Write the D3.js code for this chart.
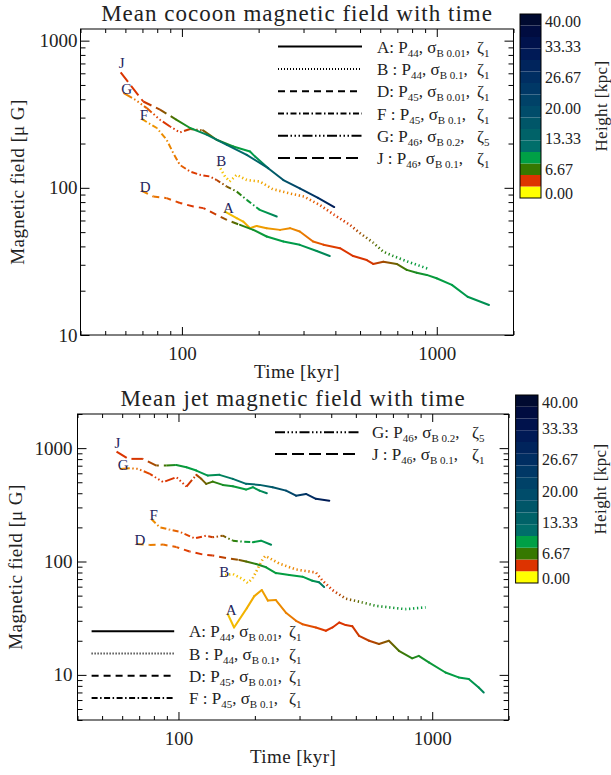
<!DOCTYPE html>
<html>
<head>
<meta charset="utf-8">
<script src="https://cdn.jsdelivr.net/npm/d3@7"></script>
<style>
  body { margin: 0; background: #fff; }
  svg text { font-family: "Liberation Serif", "Times New Roman", serif; fill: #222; }
  .title { font-size: 23px; letter-spacing: 1px; }
  .axlab { font-size: 19px; letter-spacing: 0.4px; }
  .axis text { font-size: 19px; fill: #222; }
  .cblab { font-size: 16px; }
  .leg { font-size: 17px; }
  .leg .sub { font-size: 11px; }
  .curve-lab { font-size: 15px; fill: #25255e; }
</style>
</head>
<body>
<svg id="chart" width="611" height="775"></svg>
<script>
// x axis: time in kyr, y axis: mean magnetic field in micro Gauss
var xDomain = [40, 2000];
var xMajorTicks = [100, 1000];
var yMajorTicks = [10, 100, 1000];

// colour bar: height in kpc, 16 bands of 2.5 kpc (bottom to top)
var heightMax = 40;
var heightTickLabels = ["0.00", "6.67", "13.33", "20.00", "26.67", "33.33", "40.00"];
var bandColors = ["#ffff00", "#dd3300", "#367800", "#00a046", "#006e6a", "#006268",
                  "#005668", "#004c6a", "#004268", "#003866", "#002e62", "#00245c",
                  "#001a56", "#00124c", "#000c40", "#000a30"];

// legend entries
var runKeys = ["A", "B", "D", "F", "G", "J"];
var runSep = [": ", " : ", ": ", " : ", ": ", " : "];
var runP = ["44", "44", "45", "45", "46", "46"];
var runSigma = ["B 0.01", "B 0.1", "B 0.01", "B 0.1", "B 0.2", "B 0.1"];
var runZeta = ["1", "1", "1", "1", "5", "1"];

// [time kyr, B microGauss, height kpc] -- mean cocoon field
var cocoonA = [[147.6,69,2.0],[164,62.2,2.1],[174,59,2.2],[185,53.2,2.3],[196.5,55.1,2.4],[215,53.2,2.5],
  [242.7,51.8,2.6],[265.6,53.2,2.7],[290,50.5,2.8],[327,43.2,3.1],[359,41.1,3.5],[417,38.9,3.7],
  [470,34.4,3.8],[531,32.3,3.8],[563,30.4,3.9],[617,31.5,4.6],[696,30.4,5.5],[762,27.7,6.5],
  [834,26.5,7.6],[913,25.6,8.2],[998,24.3,8.5],[1146,21.9,8.8],[1321,18.2,9.2],[1603,16,9.7]];
var cocoonB = [[139,143,1.9],[147.6,119.4,2.0],[154,110.4,2.0],[164,122.5,2.1],[179.6,113,2.2],
  [202,110.4,2.3],[227,98,2.5],[262,92,2.7],[301,87.3,3.0],[347,76.5,3.4],[396,65.5,3.7],
  [456,56,3.9],[500,49.2,4.7],[563,42.4,5.6],[617,36.8,6.3],[675,34.4,7.6],[762,31.7,8.2],
  [834,30,8.5],[925,28.2,8.6]];
var cocoonD = [[69.5,95.5,2.7],[77.2,87.3,2.9],[87.1,85.1,3.2],[98.2,78.9,3.6],[110.9,74.7,3.8],
  [121.4,72.8,3.8],[136.8,65.5,4.1],[150,60.5,5.0],[169,56,6.3],[190.6,51.8,7.8],[215,46.7,8.5],
  [250,43.2,8.8],[290,41,9.1],[338,37.2,9.6],[380,34.4,10.3]];
var cocoonF = [[69.5,294,2.5],[79.7,255,2.6],[87.1,212,2.7],[92.5,172,2.8],[98.2,143,3.1],
  [107.7,129,3.6],[117.8,122.5,3.8],[128.9,119.4,3.8],[136.8,113,4.2],[150,102,5.0],
  [164,94.4,6.3],[179.6,82.8,8.0],[202,70.8,8.8],[235.5,63.8,10.3]];
var cocoonG = [[58.9,441,2.7],[65.5,397,2.9],[72.8,348,3.2],[82,290,3.7],[89.8,261,3.8],
  [98.2,238,3.8],[107.7,251,4.2],[121,245.5,5.0],[136.8,212,6.3],[159,191,8.3],[185,176.6,8.7],
  [193.7,163,9.2],[218,136,10.5]];
var cocoonJ = [[57.5,609,3.8],[70.5,386,3.8],[82,340,4.6],[95.3,290,6.3],[107.7,255,8.3],
  [125,230,10.5],[150,196,11.5],[179.6,167.6,12.5],[218,136,14],[250,113,17],[290,99,21],
  [342,85.5,26],[396,74,31]];

// mean jet field
var jetA = [[156.4,34.4,2.0],[165.6,26.2,2.1],[186,38.8,2.2],[199,49.5,2.3],[213,56,2.4],
  [225,45.2,2.5],[242,45.7,2.6],[266,35.1,2.8],[290.6,30,3.0],[308,28,3.3],[348,26.2,3.5],
  [381,24.5,3.7],[404.5,26.2,3.8],[430,29,3.8],[456,27.5,3.8],[484,26.9,3.9],[515,22.1,4.0],
  [564,20,4.2],[617,18.7,4.7],[675,20,5.2],[739,16.3,6.0],[834,14,7.0],[885,14.7,7.5],
  [970,12.9,8.2],[1128,10.5,8.5],[1271,9.5,8.8],[1393,9.2,9.1],[1525,7.75,9.5],[1596,7.0,10.3]];
var jetB = [[147.3,75,1.9],[163.7,77.6,2.0],[179,70,2.0],[187.5,64.6,2.1],[196.4,71.5,2.2],
  [205,86,2.3],[214.8,105,2.4],[220,112,2.5],[249.6,96,2.6],[290.6,85,2.8],[348,80,3.3],
  [369,68,3.6],[404.5,56,3.8],[456,47,4.8],[530,43.6,6.0],[599,40.7,7.5],[675,39.4,8.0],
  [785,38,8.4],[942,39.4,8.6]];
var jetD = [[68.4,143,2.7],[77.1,140,2.8],[87,141,3.0],[98.1,134,3.3],[110.6,122.5,3.7],
  [124.8,115.3,3.8],[136.5,113,3.9],[154,107.4,4.3],[173.6,103,5.0],[184.8,100,5.8],
  [202.4,95,7.0],[221.5,88.9,8.2],[242,79,8.5],[273.5,76,8.6],[308,73.5,8.8],[337,67.6,9.2],
  [358,65.5,10.3],[375,59.6,11]];
var jetF = [[78.2,237,2.6],[84.3,200.5,2.8],[92.3,191,3.0],[101,183,3.3],[115.9,160,3.7],
  [128.6,169,3.8],[136.5,163.7,4.1],[149.5,169,5.0],[163.7,152.7,6.3],[179,149.6,8.0],
  [196.4,148,8.5],[211.5,152.7,9.0],[231.8,140.6,10.0]];
var jetG = [[58.7,656,2.6],[64.3,665,2.8],[69.3,656,3.1],[77.1,593,3.6],[87,501,3.8],
  [98.1,555,3.8],[107.5,458,3.8],[117.6,581,4.2],[123,536,5.0],[128.6,484,5.5],[136.5,507,6.3],
  [149.5,474,7.6],[163.7,461,8.3],[184.8,431,8.6],[196.4,452,9.0],[208.6,422,9.5],[223,400,10.5]];
var jetJ = [[57,933,3.8],[63.4,804,3.8],[72.4,804,3.9],[81.8,701,4.8],[89.6,701,6.3],
  [98.1,711,8.0],[107.5,679,8.5],[117.6,634,8.7],[130.5,573,9.3],[145,581,10],[163.7,536,11],
  [184.8,484,12],[208.6,474,13.5],[235,452,16],[265.5,422,19],[290.6,381,22],[318,394.5,25],
  [348,357,28],[393,344,32]];

// IDL-like line styles
var dashes = {
    A: null,
    B: "1.3,2.7",
    D: "7,5",
    F: "6,2.5,1.5,2.5",
    G: "10,2.5,1.5,2.5,1.5,2.5,1.5,2.5",
    J: "12,5"
};
// the original restarts the pattern at every output (~11 kyr apart), so once
// an output step is shorter on screen than the first dash the line looks solid
var outputStep = 11;

var panels = [
    {
        title: "Mean cocoon magnetic field with time",
        yDomain: [10, 1200],
        frame: { l: 80.5, r: 513.5, t: 29, b: 335 },
        bar: { l: 520, r: 541, t: 14, b: 198 },
        titleY: 21, xLabY: 378, yLabX: 24, barLabX: 607, yPad: 3,
        series: { A: cocoonA, B: cocoonB, D: cocoonD, F: cocoonF, G: cocoonG, J: cocoonJ },
        legends: [{ keys: ["A", "B", "D", "F", "G", "J"], x0: 278, x1: 362, tx: 377, y0: 46.6, dy: 22.3 }]
    },
    {
        title: "Mean jet magnetic field with time",
        yDomain: [4, 2000],
        frame: { l: 77.5, r: 508.6, t: 414, b: 720 },
        bar: { l: 515.6, r: 538, t: 395, b: 583 },
        titleY: 406, xLabY: 763, yLabX: 22, barLabX: 606, yPad: 5,
        series: { A: jetA, B: jetB, D: jetD, F: jetF, G: jetG, J: jetJ },
        legends: [
            { keys: ["G", "J"], x0: 275, x1: 358.5, tx: 372, y0: 432.3, dy: 21.8 },
            { keys: ["A", "B", "D", "F"], x0: 91.6, x1: 174.2, tx: 189, y0: 631.3, dy: 22.2 }
        ]
    }
];

var svg = d3.select("#chart");
svg.append("rect").attr("width", 611).attr("height", 775).attr("fill", "#fff");
var defs = svg.append("defs");
var gradCount = 0;

// line colour follows the colour bar, blended between band centres
var bandCentres = bandColors.map((c, i) => (i + 0.5) * heightMax / bandColors.length);
var lineColor = d3.scaleLinear().domain(bandCentres).range(bandColors).clamp(true);

function drawSeries(g, x, y, data, key) {
    var pts = data.map(d => [x(d[0]), y(d[1]), d[2], d[0]]);
    var dash = dashes[key];
    var firstDash = dash ? +dash.split(",")[0] : 0;
    var run = 0;
    for (var i = 0; i < pts.length - 1; i++) {
        var p = pts[i], q = pts[i + 1];
        var len = Math.hypot(q[0] - p[0], q[1] - p[1]);
        var tm = Math.sqrt(p[3] * q[3]);
        var step = x(tm + outputStep) - x(tm);
        var dashed = dash && (key === "B" || step >= firstDash);
        var id = "seg" + (gradCount++);
        var lg = defs.append("linearGradient").attr("id", id)
            .attr("gradientUnits", "userSpaceOnUse")
            .attr("x1", p[0]).attr("y1", p[1]).attr("x2", q[0]).attr("y2", q[1]);
        lg.append("stop").attr("offset", 0).attr("stop-color", lineColor(p[2]));
        lg.append("stop").attr("offset", 1).attr("stop-color", lineColor(q[2]));
        g.append("line")
            .attr("x1", p[0]).attr("y1", p[1]).attr("x2", q[0]).attr("y2", q[1])
            .attr("stroke", "url(#" + id + ")")
            .attr("stroke-width", key === "B" ? 2.6 : 2)
            .attr("stroke-linecap", dashed ? "butt" : "round")
            .attr("stroke-dasharray", dashed ? dash : null)
            .attr("stroke-dashoffset", dashed ? run : null);
        run += len;
    }
    // run letter next to the first point
    g.append("text").attr("class", "curve-lab")
        .attr("x", pts[0][0] - 2)
        .attr("y", pts[0][1] + (key === "J" ? -4 : 1))
        .text(key);
}

function drawLegend(g, L) {
    L.keys.forEach((k, i) => {
        var idx = runKeys.indexOf(k);
        var yy = L.y0 + i * L.dy;
        g.append("line").attr("x1", L.x0).attr("x2", L.x1).attr("y1", yy).attr("y2", yy)
            .attr("stroke", "#000").attr("stroke-width", 2)
            .attr("stroke-dasharray", k === "B" ? "1,2" : dashes[k]);
        var t = g.append("text").attr("class", "leg").attr("x", L.tx).attr("y", yy + 6);
        t.append("tspan").text(k + runSep[idx] + "P");
        t.append("tspan").attr("class", "sub").attr("dy", 4).text(runP[idx]);
        t.append("tspan").attr("dy", -4).text(", \u03c3");
        t.append("tspan").attr("class", "sub").attr("dy", 4).text(runSigma[idx]);
        t.append("tspan").attr("dy", -4).text(",");
        t.append("tspan").attr("x", L.tx + 100).text("\u03b6");
        t.append("tspan").attr("class", "sub").attr("dy", 4).text(runZeta[idx]);
    });
}

function drawAxes(g, x, y, f, yPad) {
    var xMinor = x.ticks().filter(v => xMajorTicks.indexOf(v) < 0);
    var yMinor = y.ticks().filter(v => yMajorTicks.indexOf(v) < 0);
    var fmt = d3.format("d");

    var axes = [
        [d3.axisBottom(x).tickValues(xMajorTicks).tickSize(-8).tickPadding(11.5).tickFormat(fmt), "translate(0," + f.b + ")"],
        [d3.axisBottom(x).tickValues(xMinor).tickSize(-4).tickFormat(""), "translate(0," + f.b + ")"],
        [d3.axisTop(x).tickValues(xMajorTicks).tickSize(-8).tickFormat(""), "translate(0," + f.t + ")"],
        [d3.axisTop(x).tickValues(xMinor).tickSize(-4).tickFormat(""), "translate(0," + f.t + ")"],
        [d3.axisLeft(y).tickValues(yMajorTicks).tickSize(-9).tickPadding(yPad).tickFormat(fmt), "translate(" + f.l + ",0)"],
        [d3.axisLeft(y).tickValues(yMinor).tickSize(-5).tickFormat(""), "translate(" + f.l + ",0)"],
        [d3.axisRight(y).tickValues(yMajorTicks).tickSize(-9).tickFormat(""), "translate(" + f.r + ",0)"],
        [d3.axisRight(y).tickValues(yMinor).tickSize(-5).tickFormat(""), "translate(" + f.r + ",0)"]
    ];
    axes.forEach(a => {
        var ag = g.append("g").attr("class", "axis").attr("transform", a[1]).call(a[0]);
        ag.select(".domain").remove();
        ag.selectAll("line").attr("stroke", "#000");
    });

    g.append("rect").attr("x", f.l).attr("y", f.t)
        .attr("width", f.r - f.l).attr("height", f.b - f.t)
        .attr("fill", "none").attr("stroke", "#000").attr("stroke-width", 1);
}

function drawColorbar(g, P) {
    var b = P.bar;
    var yc = d3.scaleLinear().domain([0, heightMax]).range([b.b, b.t]);
    var step = heightMax / bandColors.length;
    g.selectAll(".band").data(bandColors).enter().append("rect")
        .attr("x", b.l).attr("width", b.r - b.l)
        .attr("y", (c, i) => yc((i + 1) * step))
        .attr("height", (c, i) => yc(i * step) - yc((i + 1) * step))
        .attr("fill", c => c);
    g.append("rect").attr("x", b.l).attr("y", b.t).attr("width", b.r - b.l).attr("height", b.b - b.t)
        .attr("fill", "none").attr("stroke", "#000").attr("stroke-width", 1);
    heightTickLabels.forEach((lab, i) => {
        var v = i * heightMax / (heightTickLabels.length - 1);
        var yy = Math.max(b.t + 7, Math.min(b.b - 5, yc(v) + 2));
        g.append("text").attr("class", "cblab").attr("x", b.r + 4).attr("y", yy)
            .attr("dy", "0.35em").text(lab);
    });
    var cy = (b.t + b.b) / 2;
    g.append("text").attr("class", "axlab")
        .attr("transform", "translate(" + P.barLabX + "," + cy + ") rotate(-90)")
        .attr("text-anchor", "middle").style("font-size", "17px").text("Height [kpc]");
}

panels.forEach(P => {
    var f = P.frame;
    var g = svg.append("g");
    var x = d3.scaleLog().domain(xDomain).range([f.l, f.r]);
    var y = d3.scaleLog().domain(P.yDomain).range([f.b, f.t]);

    g.append("text").attr("class", "title").attr("x", (f.l + f.r) / 2).attr("y", P.titleY)
        .attr("text-anchor", "middle").text(P.title);

    runKeys.forEach(k => drawSeries(g, x, y, P.series[k], k));
    P.legends.forEach(L => drawLegend(g, L));
    drawAxes(g, x, y, f, P.yPad);

    g.append("text").attr("class", "axlab").attr("x", (f.l + f.r) / 2).attr("y", P.xLabY)
        .attr("text-anchor", "middle").text("Time [kyr]");
    g.append("text").attr("class", "axlab")
        .attr("transform", "translate(" + P.yLabX + "," + ((f.t + f.b) / 2) + ") rotate(-90)")
        .attr("text-anchor", "middle").text("Magnetic field [\u03bc G]");

    drawColorbar(g, P);
});
</script>
</body>
</html>
